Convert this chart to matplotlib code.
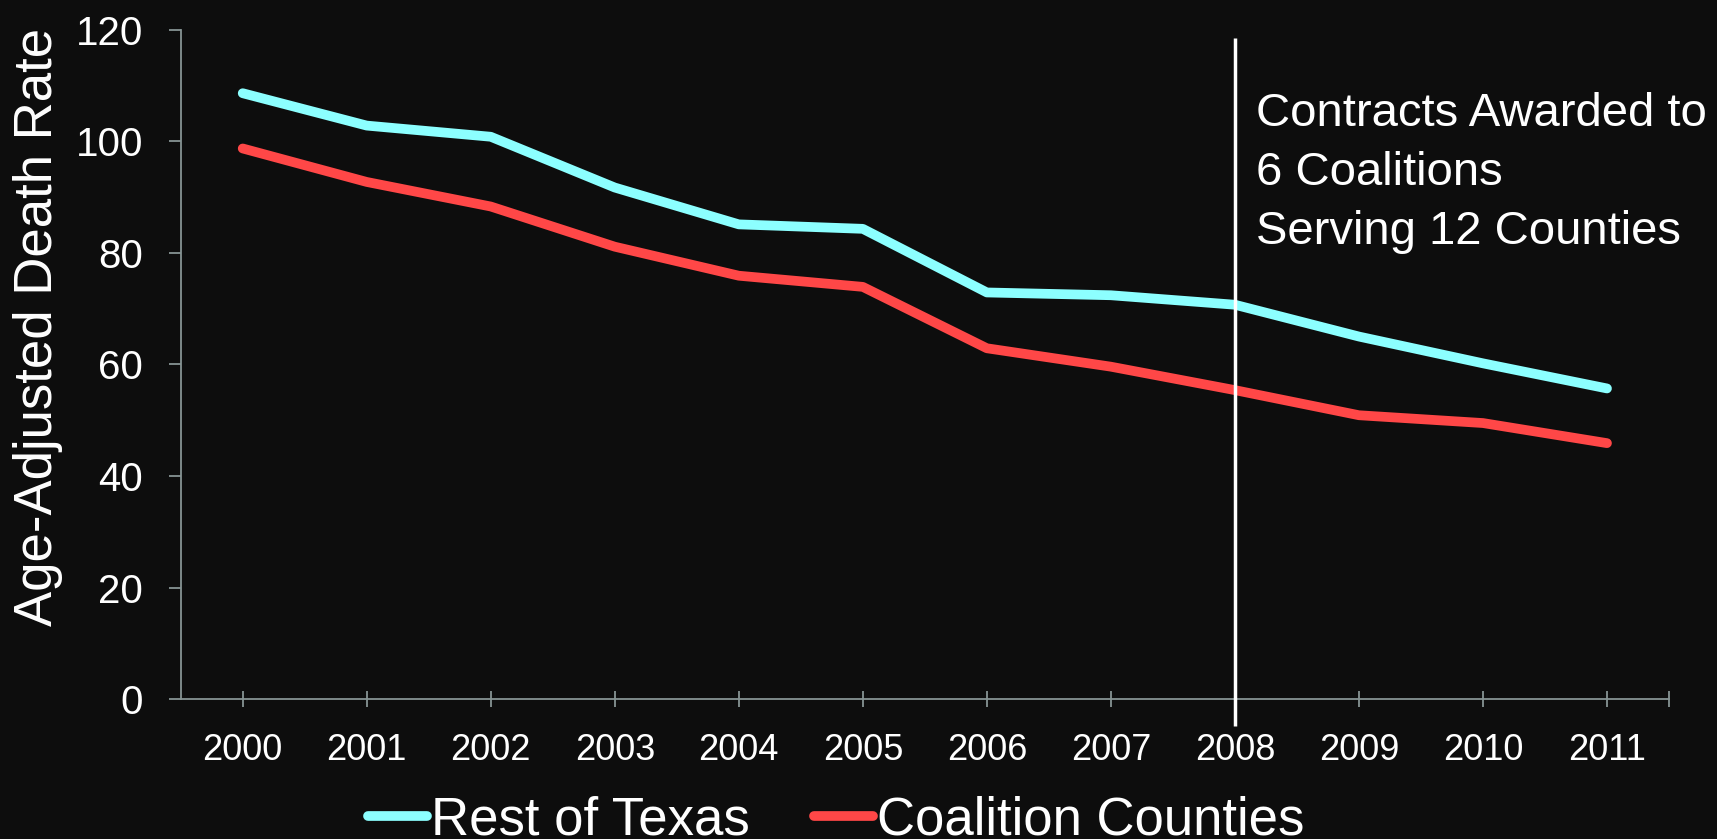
import matplotlib
matplotlib.use("Agg")
import matplotlib.pyplot as plt

# Age-adjusted death rate by year
years = ["2000", "2001", "2002", "2003", "2004", "2005",
         "2006", "2007", "2008", "2009", "2010", "2011"]
rest_of_texas = [108.6, 102.8, 100.8, 91.7, 85.1, 84.3,
                 72.9, 72.4, 70.7, 65.0, 60.2, 55.7]
coalition_counties = [98.7, 92.7, 88.3, 81.1, 75.9, 73.9,
                      62.9, 59.6, 55.4, 50.9, 49.5, 45.9]
award_year = "2008"
award_note = "Contracts Awarded to\n6 Coalitions\nServing 12 Counties"
y_ticks = [0, 20, 40, 60, 80, 100, 120]

BG = "#0d0d0d"
AXIS = "#869494"
CYAN = "#8cffff"
RED = "#ff4747"

plt.rcParams["font.family"] = ["Liberation Sans", "DejaVu Sans"]

fig = plt.figure(figsize=(17.17, 8.39), dpi=100, facecolor=BG)
ax = fig.add_axes([0.10524, 0.16651, 0.86680, 0.79821], facecolor=BG)

xs = list(range(len(years)))
ax.plot(xs, rest_of_texas, color=CYAN, lw=7, solid_capstyle="round",
        solid_joinstyle="round", label="Rest of Texas", zorder=2)
ax.plot(xs, coalition_counties, color=RED, lw=7, solid_capstyle="round",
        solid_joinstyle="round", label="Coalition Counties", zorder=2)

# marker line for the year contracts were awarded
ax_i = years.index(award_year)
ax.vlines(ax_i, -4.8, 118.5, colors="white", lw=2.5, clip_on=False, zorder=3)
# va="baseline" anchors the last line of a multi-line text
ax.text(ax_i + 0.17, 81.5, award_note, color="white", fontsize=34,
        ha="left", va="baseline", linespacing=1.45)

ax.set_xlim(-0.5, len(years) - 0.5)
ax.set_ylim(0, 120)
ax.set_yticks(y_ticks)
ax.set_xticks(xs + [len(years) - 0.5])
ax.set_xticklabels(years + [""])

for side in ("top", "right"):
    ax.spines[side].set_visible(False)
for side in ("left", "bottom"):
    ax.spines[side].set_color(AXIS)
    ax.spines[side].set_linewidth(1.3)

ax.tick_params(axis="x", direction="inout", length=11.5, width=1.3,
               color=AXIS, labelcolor="white", labelsize=26, pad=18.5)
ax.tick_params(axis="y", direction="out", length=9, width=1.3,
               color=AXIS, labelcolor="white", labelsize=29, pad=18)

fig.text(38 / 1717, 1 - 327 / 839, "Age-Adjusted Death Rate", color="white",
         fontsize=38, rotation=90, ha="center", va="center")

leg = ax.legend(loc="center", bbox_to_anchor=(0.487, 0.022),
                bbox_transform=fig.transFigure, ncol=2, frameon=False,
                fontsize=38, handlelength=1.13, handletextpad=0.08,
                columnspacing=1.2, borderpad=0)
for t in leg.get_texts():
    t.set_color("white")

fig.savefig("out.png", dpi=100, facecolor=BG)
